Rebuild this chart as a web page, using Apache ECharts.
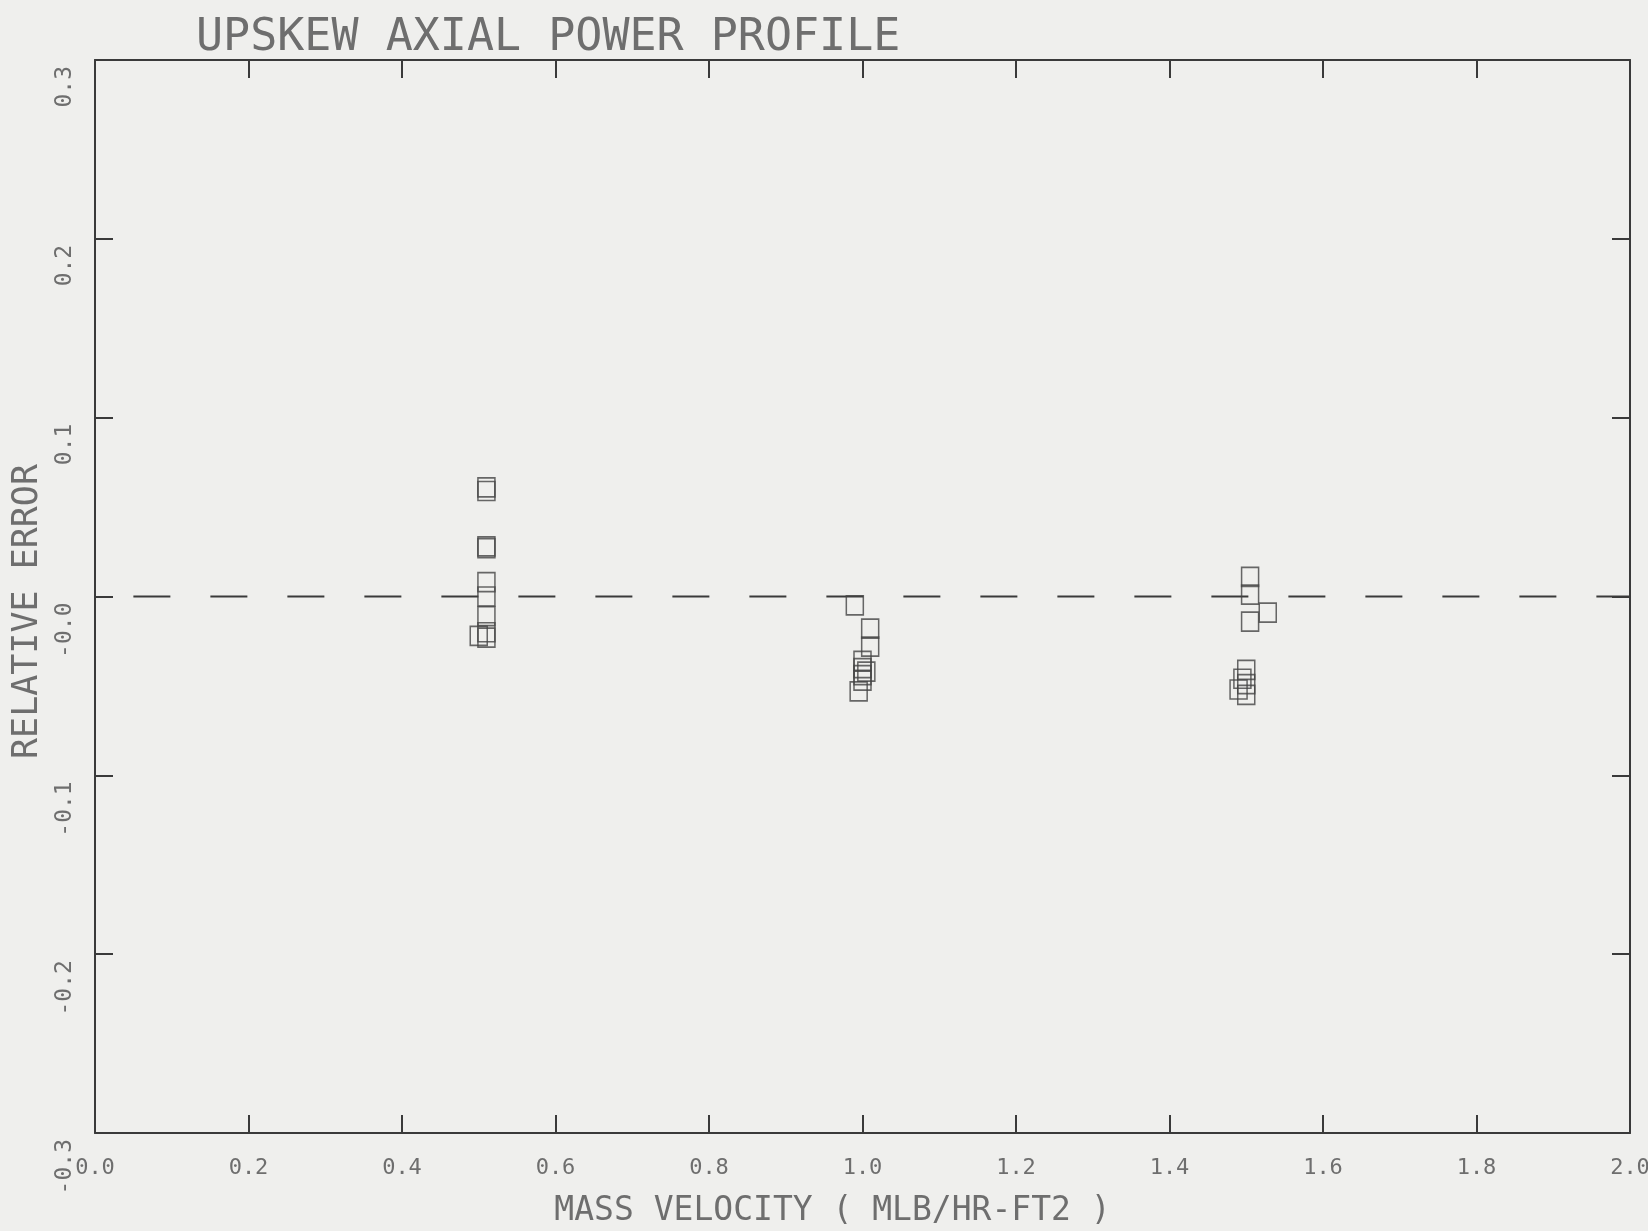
<!DOCTYPE html>
<html>
<head>
<meta charset="utf-8">
<script src="https://cdn.jsdelivr.net/npm/echarts@6/dist/echarts.min.js"></script>
<style>
  html, body { margin: 0; padding: 0; background: #efefed; }
  #chart { width: 1648px; height: 1231px; }
</style>
</head>
<body>
<div id="chart"></div>
<script>
// upskew axial power profile - relative error vs mass velocity
var xTickLabels = ['0.0', '0.2', '0.4', '0.6', '0.8', '1.0', '1.2', '1.4', '1.6', '1.8', '2.0'];
var yTickLabels = ['-0.3', '-0.2', '-0.1', '-0.0', '0.1', '0.2', '0.3'];

// G ~ 0.5
var lowG = [0.51, 0.51, 0.51, 0.51, 0.51, 0.51, 0.51, 0.51, 0.50, 0.51];
var lowErr = [0.061, 0.059, 0.028, 0.027, 0.008, 0.000, -0.011, -0.020, -0.022, -0.023];
// G ~ 1.0
var midG = [0.99, 1.01, 1.01, 1.0, 1.0, 1.005, 1.0, 1.0, 0.995];
var midErr = [-0.005, -0.018, -0.028, -0.036, -0.040, -0.042, -0.044, -0.047, -0.053];
// G ~ 1.5
var highG = [1.505, 1.505, 1.528, 1.505, 1.5, 1.495, 1.5, 1.49, 1.5];
var highErr = [0.011, 0.001, -0.009, -0.014, -0.041, -0.046, -0.049, -0.052, -0.055];

// zero reference line
var zeroLineX = [0.05, 2.0];
var zeroLineY = [0, 0];

function pairs(xs, ys) {
    var out = [];
    for (var i = 0; i < xs.length; i++) {
        out.push([xs[i], ys[i]]);
    }
    return out;
}

var font = 'DejaVu Sans Mono';
var ink = '#3a3a3a';
var textInk = '#6e6e6e';

var frameLine = { onZero: false, lineStyle: { color: ink, width: 2 } };
var frameTick = { inside: true, length: 18, lineStyle: { color: ink, width: 2 } };

var chart = echarts.init(document.getElementById('chart'));
var option = {
    backgroundColor: '#efefed',
    animation: false,
    title: {
        text: 'UPSKEW AXIAL POWER PROFILE',
        left: 196,
        top: 16,
        padding: 0,
        textStyle: {
            fontFamily: font,
            fontSize: 45,
            fontWeight: 'normal',
            color: textInk
        }
    },
    grid: {
        left: 95,
        right: 18,
        top: 60,
        bottom: 98,
        containLabel: false,
        outerBoundsMode: 'none'
    },
    xAxis: [
        {
            type: 'value',
            min: 0,
            max: 2.0,
            interval: 0.2,
            position: 'bottom',
            name: 'MASS VELOCITY ( MLB/HR-FT2 )',
            nameLocation: 'middle',
            nameGap: 62,
            nameTextStyle: {
                fontFamily: font,
                fontSize: 33,
                color: textInk,
                padding: [0, 60, 0, 0]
            },
            axisLine: frameLine,
            axisTick: frameTick,
            splitLine: { show: false },
            axisLabel: {
                margin: 24,
                fontFamily: font,
                fontSize: 22,
                color: textInk,
                formatter: function (v) {
                    return xTickLabels[Math.round(v / 0.2)];
                }
            }
        },
        {
            type: 'value',
            min: 0,
            max: 2.0,
            interval: 0.2,
            position: 'top',
            axisLine: frameLine,
            axisTick: frameTick,
            axisLabel: { show: false },
            splitLine: { show: false }
        }
    ],
    yAxis: [
        {
            type: 'value',
            min: -0.3,
            max: 0.3,
            interval: 0.1,
            position: 'left',
            name: 'RELATIVE ERROR',
            nameLocation: 'middle',
            nameGap: 48,
            nameRotate: 90,
            nameTextStyle: {
                fontFamily: font,
                fontSize: 35,
                color: textInk,
                padding: [0, 30, 0, 0]
            },
            axisLine: frameLine,
            axisTick: frameTick,
            splitLine: { show: false },
            axisLabel: {
                rotate: 90,
                margin: 30,
                align: 'right',
                verticalAlign: 'middle',
                padding: [0, 6, 0, 0],
                fontFamily: font,
                fontSize: 23,
                color: textInk,
                formatter: function (v) {
                    return yTickLabels[Math.round((v + 0.3) / 0.1)];
                }
            }
        },
        {
            type: 'value',
            min: -0.3,
            max: 0.3,
            interval: 0.1,
            position: 'right',
            axisLine: frameLine,
            axisTick: frameTick,
            axisLabel: { show: false },
            splitLine: { show: false }
        }
    ],
    series: [
        {
            type: 'line',
            data: pairs(zeroLineX, zeroLineY),
            symbol: 'none',
            lineStyle: { color: ink, width: 2, type: [37, 40] },
            z: 1
        },
        {
            type: 'scatter',
            data: pairs(lowG, lowErr),
            symbol: 'rect',
            symbolSize: [17, 19],
            itemStyle: { color: 'rgba(0,0,0,0)', borderColor: '#444', borderWidth: 1.6 }
        },
        {
            type: 'scatter',
            data: pairs(midG, midErr),
            symbol: 'rect',
            symbolSize: [17, 19],
            itemStyle: { color: 'rgba(0,0,0,0)', borderColor: '#444', borderWidth: 1.6 }
        },
        {
            type: 'scatter',
            data: pairs(highG, highErr),
            symbol: 'rect',
            symbolSize: [17, 19],
            itemStyle: { color: 'rgba(0,0,0,0)', borderColor: '#444', borderWidth: 1.6 }
        }
    ]
};
chart.setOption(option);
</script>
</body>
</html>
